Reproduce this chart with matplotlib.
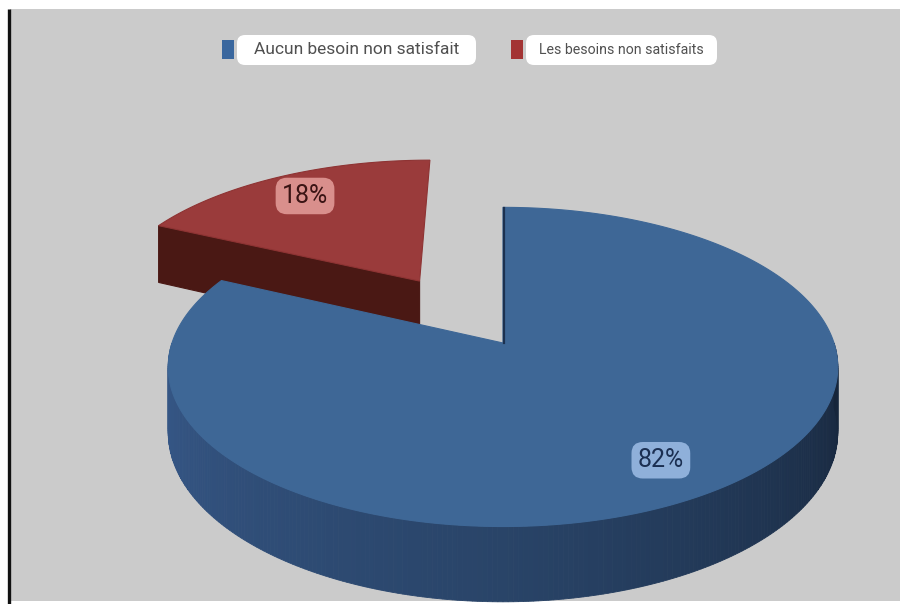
import numpy as np
import matplotlib
matplotlib.use("Agg")
import matplotlib.pyplot as plt
from matplotlib.patches import Polygon, Rectangle, FancyBboxPatch

plt.rcParams["font.family"] = ["Roboto", "DejaVu Sans"]

labels = ["Aucun besoin non satisfait", "Les besoins non satisfaits"]
values = [82, 18]
top_colors = ["#3e6796", "#9a3b3b"]
key_colors = ["#3a679e", "#a33434"]
badge_colors = ["#8fb0da", "#d98f8c"]
badge_text_colors = ["#1b2f52", "#3a1414"]
explode = [0.0, 0.5]

# projection of the tilted disc (pixel units, y downwards)
CX, CY = 503, 343
SX, SY = 331, 156
K = 0.15
THICK = 64


def proj(X, Y, drop=0.0):
    f = 1.0 / (1.0 + K * np.asarray(Y))
    return CX + np.asarray(X) * SX * f, CY - np.asarray(Y) * SY * f + drop * f


def lerp_color(c0, c1, t):
    a = np.array(matplotlib.colors.to_rgb(c0))
    b = np.array(matplotlib.colors.to_rgb(c1))
    return tuple(a + (b - a) * t)


fig = plt.figure(figsize=(9, 6.04), dpi=100)
ax = fig.add_axes([0, 0, 1, 1])
ax.set_xlim(0, 900)
ax.set_ylim(604, 0)
ax.axis("off")

# panel background and left rule
ax.add_patch(Rectangle((10, 9), 890, 592, facecolor="#cbcbcb", edgecolor="none"))
ax.plot([8.5, 8.5], [9, 604], color="#111111", lw=2.4, solid_capstyle="butt")

# slice angles: start at 12 o'clock and go clockwise
total = sum(values)
spans = [v / total * 360.0 for v in values]
start = 90.0
slices = []
for span in spans:
    slices.append((start - span, start))
    start -= span

blue_a0, blue_a1 = slices[0]
red_a0, red_a1 = slices[1]
# red wedge sits counter-clockwise of 12 o'clock
red_a0, red_a1 = red_a0 + 360.0, red_a1 + 360.0

# ---- red slice (exploded, behind) ----
mid = np.radians((red_a0 + red_a1) / 2)
ox, oy = explode[1] * np.cos(mid), explode[1] * np.sin(mid)
t = np.radians(np.linspace(red_a0, red_a1, 80))
rx, ry = ox + np.cos(t), oy + np.sin(t)

# radial face on the left cut (the one facing the viewer)
ea = np.radians(red_a1)
ex, ey = ox + np.cos(ea), oy + np.sin(ea)
p_apex = proj(ox, oy)
p_apex_b = proj(ox, oy, THICK)
p_rim = proj(ex, ey)
p_rim_b = proj(ex, ey, THICK)
ax.add_patch(Polygon([p_apex, p_rim, p_rim_b, p_apex_b], closed=True,
                     facecolor="#4a1814", edgecolor="#4a1814", lw=0.8))

px, py = proj(rx, ry)
top = np.column_stack([np.r_[p_apex[0], px], np.r_[p_apex[1], py]])
ax.add_patch(Polygon(top, closed=True, facecolor=top_colors[1],
                     edgecolor="#8e3333", lw=0.8))

# ---- blue slice ----
side_lo, side_hi = 180.0, 360.0
angs = np.linspace(side_lo, side_hi, 241)
for a, b in zip(angs[:-1], angs[1:]):
    ta = np.radians(np.linspace(a, b, 3))
    X, Y = np.cos(ta), np.sin(ta)
    xt, yt = proj(X, Y)
    xb, yb = proj(X, Y, THICK)
    frac = ((a + b) / 2 - side_lo) / (side_hi - side_lo)
    if frac < 0.5:
        col = lerp_color("#37598a", "#294468", frac / 0.5)
    else:
        col = lerp_color("#294468", "#16253a", (frac - 0.5) / 0.5)
    pts = np.column_stack([np.r_[xt, xb[::-1]], np.r_[yt, yb[::-1]]])
    ax.add_patch(Polygon(pts, closed=True, facecolor=col, edgecolor=col, lw=0.6))

t = np.radians(np.linspace(blue_a0, blue_a1, 300))
bx, by = proj(np.cos(t), np.sin(t))
top = np.column_stack([np.r_[CX, bx], np.r_[CY, by]])
ax.add_patch(Polygon(top, closed=True, facecolor=top_colors[0],
                     edgecolor=top_colors[0], lw=0.8))
# thin shadow along the 12 o'clock cut
fx, fy = proj(0.0, 1.0)
ax.plot([fx + 0.8, CX + 0.8], [fy + 1, CY], color="#1c3150", lw=1.6)

# ---- percentage badges ----
for i, (a0, a1) in enumerate([(blue_a0, blue_a1), (red_a0, red_a1)]):
    m = np.radians((a0 + a1) / 2)
    r = 0.8 + explode[i]
    lx, ly = proj(r * np.cos(m), r * np.sin(m))
    ax.text(lx, ly, f"{values[i]}%", fontsize=18, color=badge_text_colors[i],
            ha="center", va="center",
            bbox=dict(boxstyle="round,pad=0.25,rounding_size=0.45",
                      facecolor=badge_colors[i], edgecolor="none"))

# ---- legend ----
legend_items = [
    (222, 237, 476, 12.5),
    (511, 526, 717, 10.2),
]
for i, (kx, bx0, bx1, fs) in enumerate(legend_items):
    ax.add_patch(Rectangle((kx, 40), 12, 19, facecolor=key_colors[i],
                           edgecolor="none"))
    ax.add_patch(FancyBboxPatch((bx0 + 8, 35 + 8), bx1 - bx0 - 16, 30 - 16,
                                boxstyle="round,pad=8", facecolor="white",
                                edgecolor="none"))
    ax.text((bx0 + bx1) / 2, 49.5, labels[i], fontsize=fs, color="#505050",
            ha="center", va="center")

fig.savefig("out.png", dpi=100, facecolor="white")
